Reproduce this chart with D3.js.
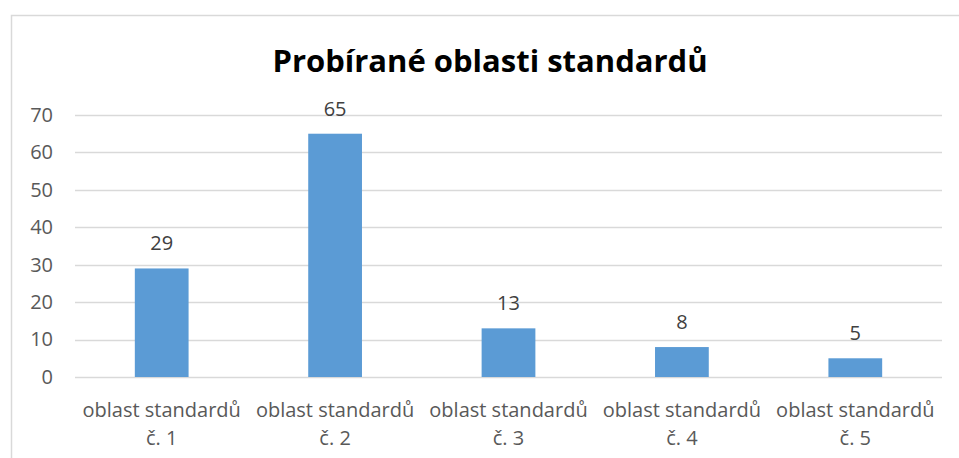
<!DOCTYPE html>
<html>
<head>
<meta charset="utf-8">
<script src="https://cdn.jsdelivr.net/npm/d3@7"></script>
<style>
  body { margin: 0; background: #fff; }
  svg { display: block; }
</style>
</head>
<body>
<div id="chart"></div>
<script>
const categories = ['oblast standardů č. 1', 'oblast standardů č. 2', 'oblast standardů č. 3', 'oblast standardů č. 4', 'oblast standardů č. 5']
const values = [29, 65, 13, 8, 5]
const yTicks = [0, 10, 20, 30, 40, 50, 60, 70]
const title = 'Probírané oblasti standardů'

const width = 959
const height = 458
const margin = { left: 75, right: 17, top: 115, bottom: 81 }
const font = '"Open Sans", "Noto Sans", sans-serif'

const svg = d3.select('#chart').append('svg')
    .attr('width', width)
    .attr('height', height)

// outer chart border
svg.append('rect')
    .attr('x', 11.5)
    .attr('y', 15.5)
    .attr('width', width)
    .attr('height', height)
    .attr('fill', 'none')
    .attr('stroke', '#d9d9d9')
    .attr('stroke-width', 1.5)

const x = d3.scaleBand()
    .domain(categories)
    .range([margin.left, width - margin.right])
    .paddingInner(0.69)
    .paddingOuter(0.345)

const y = d3.scaleLinear()
    .domain([0, 70])
    .range([height - margin.bottom, margin.top])

// gridlines
svg.append('g')
    .selectAll('line')
    .data(yTicks)
    .enter()
    .append('line')
    .attr('x1', margin.left)
    .attr('x2', width - margin.right)
    .attr('y1', d => Math.round(y(d)) + 0.5)
    .attr('y2', d => Math.round(y(d)) + 0.5)
    .attr('stroke', '#d9d9d9')
    .attr('stroke-width', 1.3)

// y axis labels
const yAxis = svg.append('g')
    .attr('transform', `translate(${ margin.left - 22 }, 0)`)
    .call(d3.axisLeft(y).tickValues(yTicks).tickSize(0).tickPadding(0))
yAxis.select('.domain').remove()
yAxis.selectAll('text')
    .attr('font-family', font)
    .attr('font-size', 20)
    .attr('fill', '#595959')

// bars
svg.append('g')
    .selectAll('rect')
    .data(values)
    .enter()
    .append('rect')
    .attr('x', (d, i) => x(categories[i]))
    .attr('y', d => y(d))
    .attr('width', x.bandwidth())
    .attr('height', d => y(0) - y(d))
    .attr('fill', '#5b9bd5')

// value labels
svg.append('g')
    .selectAll('text')
    .data(values)
    .enter()
    .append('text')
    .attr('x', (d, i) => x(categories[i]) + x.bandwidth() / 2)
    .attr('y', d => y(d) - 18)
    .attr('text-anchor', 'middle')
    .attr('font-family', font)
    .attr('font-size', 20)
    .attr('fill', '#404040')
    .text(d => d)

// category labels on two lines
const xLabels = svg.append('g')
    .selectAll('text')
    .data(categories)
    .enter()
    .append('text')
    .attr('text-anchor', 'middle')
    .attr('font-family', font)
    .attr('font-size', 20)
    .attr('fill', '#595959')
xLabels.each(function (d) {
    const cx = x(d) + x.bandwidth() / 2
    const parts = [d.slice(0, d.indexOf(' č.')), d.slice(d.indexOf(' č.') + 1)]
    d3.select(this).selectAll('tspan')
        .data(parts)
        .enter()
        .append('tspan')
        .attr('x', cx)
        .attr('y', (p, i) => 417 + i * 28)
        .text(p => p)
})

// title
svg.append('text')
    .attr('x', 490)
    .attr('y', 72)
    .attr('text-anchor', 'middle')
    .attr('font-family', font)
    .attr('font-size', 31)
    .attr('font-weight', 'bold')
    .attr('fill', '#000')
    .text(title)
</script>
</body>
</html>
